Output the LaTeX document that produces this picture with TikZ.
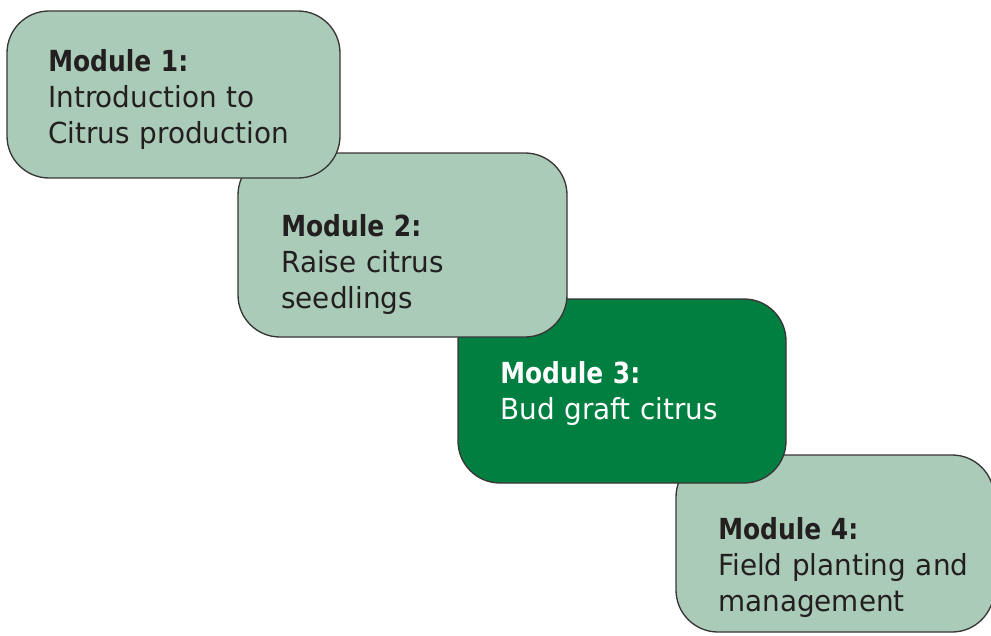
\documentclass[tikz,border=0pt]{standalone}
\usepackage{fontspec}
\setmainfont{DejaVu Sans}[UprightFeatures={FakeStretch=0.96},
  BoldFeatures={FakeStretch=0.86}]
\definecolor{sage}{HTML}{AACBB7}
\definecolor{forest}{HTML}{007F40}
\definecolor{ink}{HTML}{231F20}
\begin{document}
\begin{tikzpicture}[x=0.75pt,y=-0.75pt,
  modbox/.style={draw=ink!90, line width=1pt, rounded corners=31.5pt,
    anchor=north west, inner sep=0pt, outer sep=0pt},
  lightbox/.style={modbox, fill=sage},
  darkbox/.style={modbox, fill=forest},
  modtext/.style={anchor=base west, inner sep=0pt, text width=240pt,
    align=left, text=ink, font=\fontsize{21.75}{27}\selectfont},
]
\useasboundingbox (0,0) rectangle (991,635);

% boxes, drawn last-to-first so each earlier module lies on top
\node[lightbox, minimum width=238.5pt, minimum height=132.75pt] (m4) at (676,455) {};
\node[darkbox,  minimum width=246pt,   minimum height=138pt]    (m3) at (458,299) {};
\node[lightbox, minimum width=246.75pt, minimum height=138pt]   (m2) at (238,153) {};
\node[lightbox, minimum width=249.75pt, minimum height=125.25pt] (m1) at (7,11) {};

% module labels
\node[modtext] (t1) at (48,71)  {\textbf{Module 1:}\\Introduction to\\Citrus production};
\node[modtext] (t2) at (281,236) {\textbf{Module 2:}\\Raise citrus\\seedlings};
\node[modtext, text=white] (t3) at (500,383) {\textbf{Module 3:}\\Bud graft citrus};
\node[modtext] (t4) at (718,539) {\textbf{Module 4:}\\Field planting and\\management};
\end{tikzpicture}
\end{document}
